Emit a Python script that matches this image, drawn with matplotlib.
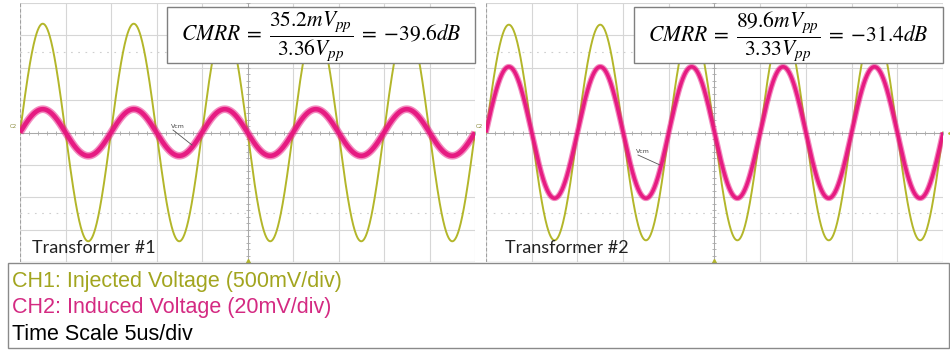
"""Two oscilloscope captures side by side: CMRR of transformer #1 and #2."""
import numpy as np
import matplotlib
matplotlib.use("Agg")
import matplotlib.pyplot as plt
from matplotlib.patches import Rectangle

plt.rcParams["mathtext.fontset"] = "stix"

W, H = 950, 356

# scope settings
CH1_SCALE = 0.5     # V/div
CH2_SCALE = 20.0    # mV/div
TIME_SCALE = 5.0    # us/div
FREQ_KHZ = 100.0    # injected tone
N_XDIV, N_YDIV = 10, 8

# measured values read from the captures
names = ["Transformer #1", "Transformer #2"]
ch1_vpp = [3.36, 3.33]          # V, injected
ch2_vpp_meas = [35.2, 89.6]     # mV, as displayed by the scope (incl. noise)
ch2_amp_trace = [14.4, 40.6]    # mV, amplitude of the trace centre
ch2_noise_lw = [5.5, 4.2]       # visual thickness of the noisy trace (pt)
cmrr_db = [-39.6, -31.4]
eq_text = [r"$CMRR\;=\;\dfrac{35.2mV_{pp}}{3.36V_{pp}}\;=\;{-}39.6dB$",
           r"$CMRR\;=\;\dfrac{89.6mV_{pp}}{3.33V_{pp}}\;=\;{-}31.4dB$"]
legend_lines = ["CH1: Injected Voltage (500mV/div)",
                "CH2: Induced Voltage (20mV/div)",
                "Time Scale 5us/div"]

YEL = "#b3b62a"
YEL_TXT = "#a2a51f"
MAG = "#e6157f"
MAG_TXT = "#d42a82"
GRID = "#d6d6d6"

# pixel boxes (left, top, right, bottom) for each screen
screens = [(20, 3, 475, 262), (486, 3, 943, 262)]
eq_boxes = [(167, 7, 475, 63), (634, 7, 943, 63)]
name_x = [32, 505]
vcm_pos = [((178, 129), (192, 145)), ((643, 154), (660, 165))]


def fx(px):
    return px / W


def fy(py):
    return 1 - py / H


fig = plt.figure(figsize=(W / 100, H / 100), dpi=100)

t = np.linspace(0, N_XDIV * TIME_SCALE, 2000)  # us
for i, (l, tp, r, b) in enumerate(screens):
    ax = fig.add_axes([fx(l), fy(b), fx(r - l), (b - tp) / H])
    ax.set_xlim(0, N_XDIV * TIME_SCALE)
    ax.set_ylim(-N_YDIV / 2, N_YDIV / 2)

    # graticule
    ax.set_xticks(np.arange(0, N_XDIV * TIME_SCALE + 0.1, TIME_SCALE))
    ax.set_yticks(np.arange(-N_YDIV / 2, N_YDIV / 2 + 0.1, 1))
    ax.set_xticks(np.arange(0, N_XDIV * TIME_SCALE + 0.1, TIME_SCALE / 5), minor=True)
    ax.set_yticks(np.arange(-N_YDIV / 2, N_YDIV / 2 + 0.1, 0.2), minor=True)
    ax.grid(True, which="major", color=GRID, lw=0.8)
    ax.tick_params(which="both", direction="inout", length=3, width=0.6,
                   color="#a8a8a8", labelbottom=False, labelleft=False)
    ax.spines["left"].set_position(("data", N_XDIV * TIME_SCALE / 2))
    ax.spines["bottom"].set_position(("data", 0))
    for s in ("left", "bottom"):
        ax.spines[s].set_color("#a8a8a8")
        ax.spines[s].set_linewidth(0.7)
    for s in ("top", "right"):
        ax.spines[s].set_visible(False)
    ax.axvline(0, color="#a0a0a0", lw=0.8, ls=(0, (3, 2)))
    ax.axhline(-N_YDIV / 2, color="#bdbdbd", lw=0.9)
    for lev in (-2.5, 2.5):
        ax.axhline(lev, color="#cfcfcf", lw=0.8, ls=(0, (1.5, 5)))

    # traces (in divisions)
    ph = 2 * np.pi * FREQ_KHZ * 1e-3 * t
    ch1 = ch1_vpp[i] / 2 * np.sin(ph) / CH1_SCALE
    ch2 = ch2_amp_trace[i] * np.sin(ph) / CH2_SCALE
    ax.plot(t, ch1, color=YEL, lw=1.4, zorder=3)
    # noisy CH2: soft halo + solid core
    ax.plot(t, ch2, color=MAG, lw=ch2_noise_lw[i], alpha=0.5, zorder=4,
            solid_capstyle="butt")
    ax.plot(t, ch2, color=MAG, lw=ch2_noise_lw[i] * 0.6, alpha=0.95,
            zorder=4, solid_capstyle="butt")

    # scope markers
    ax.plot(N_XDIV * TIME_SCALE / 2, -N_YDIV / 2, marker="^", ms=4.5,
            color=YEL, clip_on=False, zorder=5)
    ax.text(-0.3, 0.1, "C2", fontsize=4, color="#8a8a3a", ha="right",
            va="bottom")
    if i == 1:
        ax.plot(N_XDIV * TIME_SCALE + 0.9, 0, marker="<", ms=4.5,
                color=YEL, clip_on=False, zorder=5)

    fig.text(fx(name_x[i]), fy(248), names[i], fontsize=13, family="Lato",
             color="#222222", va="center", ha="left")

    # Vcm annotation
    (tx, ty), (ex, ey) = vcm_pos[i]
    fig.text(fx(tx), fy(ty), "Vcm", fontsize=4.5, color="#444444",
             ha="center", va="bottom")
    fig.add_artist(plt.Line2D([fx(tx - 5), fx(ex)], [fy(ty + 1), fy(ey)],
                              color="#555555", lw=0.6))

# equation boxes
for i, (l, tp, r, b) in enumerate(eq_boxes):
    fig.add_artist(Rectangle((fx(l), fy(b)), fx(r - l), (b - tp) / H,
                             transform=fig.transFigure, facecolor="white",
                             edgecolor="#7f7f7f", lw=1.0, zorder=10))
    fig.text(fx((l + r) / 2), fy((tp + b) / 2 + 1), eq_text[i], fontsize=15.5,
             ha="center", va="center", zorder=11)

# channel legend box
fig.add_artist(Rectangle((fx(8), fy(348)), fx(941), 85 / H,
                         transform=fig.transFigure, facecolor="white",
                         edgecolor="#8a8a8a", lw=1.0))
for txt, col, yb in zip(legend_lines, [YEL_TXT, MAG_TXT, "black"],
                        [287, 313, 340]):
    fig.text(fx(12), fy(yb), txt, fontsize=15.5, color=col,
             family="Liberation Sans", ha="left", va="baseline")

fig.savefig("out.png", dpi=100)
